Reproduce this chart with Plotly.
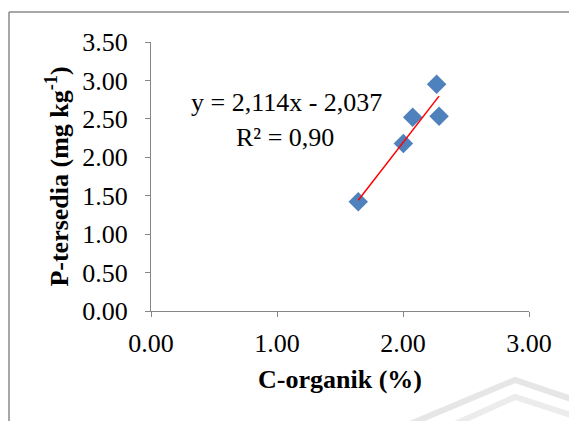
import plotly.graph_objects as go

# Data
c_organik = [1.645, 2.003, 2.077, 2.267, 2.286]
p_tersedia = [1.42, 2.18, 2.52, 2.95, 2.535]

# Trendline coefficients from the equation shown
slope = 2.114
intercept = -2.037
r2_text = "0,90"

x_ticks = [0, 1, 2, 3]
x_tick_labels = ["0.00", "1.00", "2.00", "3.00"]
y_ticks = [0, 0.5, 1, 1.5, 2, 2.5, 3, 3.5]
y_tick_labels = ["0.00", "0.50", "1.00", "1.50", "2.00", "2.50", "3.00", "3.50"]

# page has an 8px body margin; compensate so window pixels match
OFF = 8
WIN_W, WIN_H = 577, 421
W, H = WIN_W - OFF, WIN_H - OFF
PL, PR, PT, PB = 151, 529, 42, 311   # plot area in window pixels
L, T = PL - OFF, PT - OFF
R, B = W - (PR - OFF), H - (PB - OFF)
PW, PH = PR - PL, PB - PT

def px(x):
    return (x - PL) / PW

def py(y):
    return (PB - y) / PH

FONT = "Liberation Serif, Times New Roman, serif"
AX = "#868686"

trend_x = [min(c_organik), max(c_organik)]
trend_y = [slope * v + intercept for v in trend_x]

fig = go.Figure()
fig.add_trace(go.Scatter(
    x=c_organik, y=p_tersedia, mode="markers",
    marker=dict(symbol="diamond", size=15, color="#4F81BD", line=dict(width=0)),
    showlegend=False, cliponaxis=False))
fig.add_trace(go.Scatter(
    x=trend_x, y=trend_y, mode="lines",
    line=dict(color="#FF0000", width=1.5), showlegend=False))

sign = "-" if intercept < 0 else "+"
eq = f"y = {slope:.3f}x {sign} {abs(intercept):.3f}".replace(".", ",")
fig.add_annotation(x=px(286), y=py(103), xref="paper", yref="paper",
                   xanchor="center", yanchor="middle",
                   text=eq, showarrow=False,
                   font=dict(family=FONT, size=26, color="black"))
fig.add_annotation(x=px(285), y=py(137), xref="paper", yref="paper",
                   xanchor="center", yanchor="middle",
                   text=f"R² = {r2_text}", showarrow=False,
                   font=dict(family=FONT, size=26, color="black"))

shapes = [
    # outer frame (top and left edges)
    dict(type="line", xref="paper", yref="paper", x0=px(9), y0=py(12), x1=px(WIN_W + 5), y1=py(12),
         line=dict(color="#8a8a8a", width=1.5)),
    dict(type="line", xref="paper", yref="paper", x0=px(9), y0=py(12), x1=px(9), y1=py(WIN_H + 5),
         line=dict(color="#8a8a8a", width=1.5)),
    # faint watermark chevrons
    dict(type="path", xref="paper", yref="paper",
         path=f"M {px(410)} {py(424)} L {px(515)} {py(380)} L {px(580)} {py(402)}",
         line=dict(color="#e6e6e6", width=6)),
    dict(type="path", xref="paper", yref="paper",
         path=f"M {px(455)} {py(424)} L {px(515)} {py(397)} L {px(580)} {py(418)}",
         line=dict(color="#ececec", width=6)),
]

fig.update_layout(
    width=W, height=H,
    margin=dict(l=L, r=R, t=T, b=B, autoexpand=False),
    paper_bgcolor="white", plot_bgcolor="white",
    font=dict(family=FONT, size=26, color="black"),
    shapes=shapes,
    xaxis=dict(range=[0, 3], tickvals=x_ticks, ticktext=x_tick_labels,
               showgrid=False, zeroline=False, showline=True, linecolor=AX, linewidth=1.3,
               ticks="outside", ticklen=5, tickcolor=AX, tickwidth=1.3, ticklabelstandoff=4,
               tickfont=dict(family=FONT, size=26, color="black"),
               title=dict(text="<b>C-organik (%)</b>", standoff=12,
                          font=dict(family=FONT, size=26, color="black")),
               automargin=False),
    yaxis=dict(range=[0, 3.5], tickvals=y_ticks, ticktext=y_tick_labels,
               showgrid=False, zeroline=False, showline=True, linecolor=AX, linewidth=1.3,
               ticks="outside", ticklen=5, tickcolor=AX, tickwidth=1.3, ticklabelstandoff=12,
               tickfont=dict(family=FONT, size=26, color="black"),
               title=dict(text="<b>P-tersedia (mg kg<sup>-1</sup>)</b>", standoff=6,
                          font=dict(family=FONT, size=26, color="black")),
               automargin=False),
)

fig.write_html("out.html")
